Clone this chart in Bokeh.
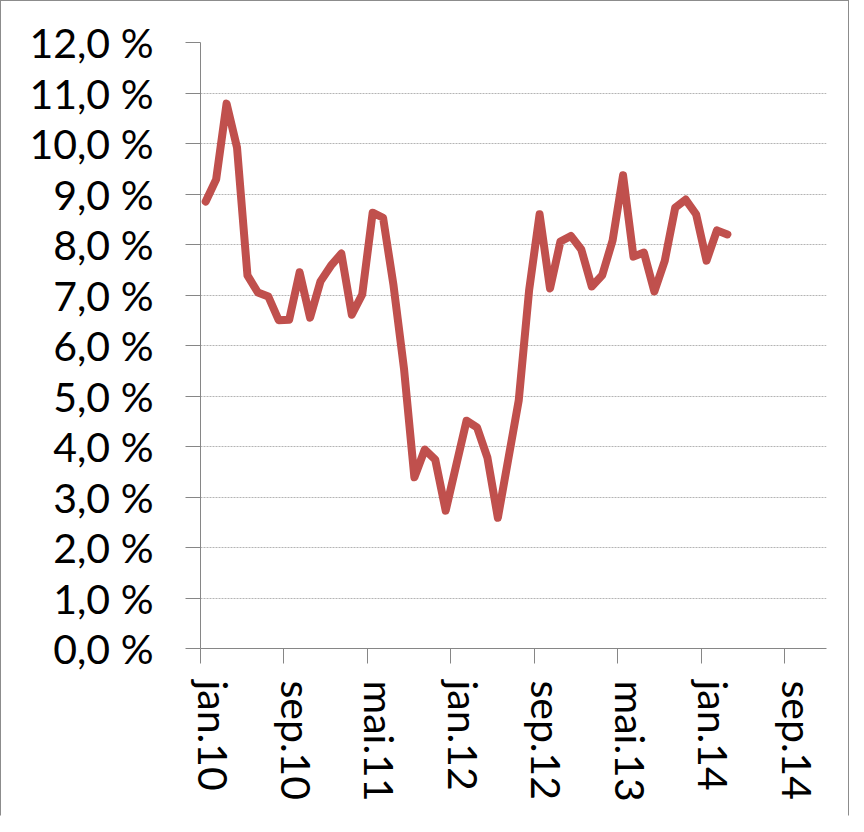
from bokeh.plotting import figure
from bokeh.models import FixedTicker, Range1d, LinearAxis
from bokeh.embed import file_html
from bokeh.resources import INLINE

# ---- data -------------------------------------------------------------
months = [
    "2010-01", "2010-02", "2010-03", "2010-04", "2010-05", "2010-06",
    "2010-07", "2010-08", "2010-09", "2010-10", "2010-11", "2010-12",
    "2011-01", "2011-02", "2011-03", "2011-04", "2011-05", "2011-06",
    "2011-07", "2011-08", "2011-09", "2011-10", "2011-11", "2011-12",
    "2012-01", "2012-02", "2012-03", "2012-04", "2012-05", "2012-06",
    "2012-07", "2012-08", "2012-09", "2012-10", "2012-11", "2012-12",
    "2013-01", "2013-02", "2013-03", "2013-04", "2013-05", "2013-06",
    "2013-07", "2013-08", "2013-09", "2013-10", "2013-11", "2013-12",
    "2014-01", "2014-02", "2014-03",
]
values = [
    8.85, 9.29, 10.79, 9.92, 7.39, 7.05, 6.97, 6.50, 6.51, 7.45, 6.55, 7.27,
    7.58, 7.82, 6.61, 7.01, 8.63, 8.53, 7.19, 5.55, 3.39, 3.94, 3.74, 2.73,
    3.62, 4.51, 4.38, 3.78, 2.59, 3.75, 4.91, 7.10, 8.60, 7.13, 8.06, 8.17,
    7.90, 7.17, 7.39, 8.08, 9.37, 7.76, 7.84, 7.07, 7.68, 8.73, 8.89, 8.60,
    7.68, 8.28, 8.20,
]
x_tick_labels = ["jan.10", "sep.10", "mai.11", "jan.12", "sep.12", "mai.13", "jan.14", "sep.14"]
x_tick_months = ["2010-01", "2010-09", "2011-05", "2012-01", "2012-09", "2013-05", "2014-01", "2014-09"]
y_ticks = list(range(0, 13))
y_tick_labels = [f"{v},0 %" for v in y_ticks]


def month_index(s):
    y, m = s.split("-")
    return (int(y) - 2010) * 12 + int(m) - 1


x_vals = [month_index(m) + 0.5 for m in months]  # mid-month
x_ticks = [month_index(m) for m in x_tick_months]
# labels sit a little to the right of their tick in the original
label_shift = 1.2
x_label_pos = [t + label_shift for t in x_ticks]

FONT = "Lato"
GRAY = "#868686"
FS = "41px"

p = figure(
    width=849, height=816,
    output_backend="svg", toolbar_location=None,
    x_range=Range1d(0, 60), y_range=Range1d(0, 12),
    min_border_left=199, min_border_top=41,
    min_border_right=24, min_border_bottom=169,
)
p.styles = {"border": "1px solid #8c8c8c", "border-bottom-color": "white"}
p.outline_line_color = None
p.background_fill_color = "white"
p.border_fill_color = "white"

p.line(x_vals, values, line_color="#C0504D", line_width=8,
       line_join="round", line_cap="round")

# y axis
p.yaxis.ticker = FixedTicker(ticks=y_ticks)
p.yaxis.major_label_overrides = {t: lab for t, lab in zip(y_ticks, y_tick_labels)}
p.yaxis.axis_line_color = GRAY
p.yaxis.major_tick_line_color = GRAY
p.yaxis.major_tick_out = 15
p.yaxis.major_tick_in = 0
p.yaxis.minor_tick_line_color = None
p.yaxis.major_label_text_font = FONT
p.yaxis.major_label_text_font_size = FS
p.yaxis.major_label_text_color = "black"
p.yaxis.major_label_standoff = 32

# x axis: ticks only
xa = p.xaxis[0]
xa.ticker = FixedTicker(ticks=x_ticks)
xa.major_label_overrides = {t: "" for t in x_ticks}
xa.major_label_standoff = 0
xa.axis_line_color = GRAY
xa.major_tick_line_color = GRAY
xa.major_tick_out = 15
xa.major_tick_in = 0
xa.minor_tick_line_color = None

# x axis: labels only
xl = LinearAxis(
    ticker=FixedTicker(ticks=x_label_pos),
    major_label_overrides={t: lab for t, lab in zip(x_label_pos, x_tick_labels)},
    major_label_orientation="vertical",
    major_label_standoff=11,
    axis_line_color=None, major_tick_line_color=None, minor_tick_line_color=None,
    major_label_text_font=FONT, major_label_text_font_size=FS,
    major_label_text_color="black",
)
p.add_layout(xl, "below")

# grid
p.xgrid.grid_line_color = None
p.ygrid.ticker = FixedTicker(ticks=y_ticks[1:])
p.ygrid.grid_line_color = "#b4b4b4"
p.ygrid.grid_line_dash = "2 1"
p.ygrid.grid_line_width = 1

open("out.html", "w").write(file_html(p, INLINE))
